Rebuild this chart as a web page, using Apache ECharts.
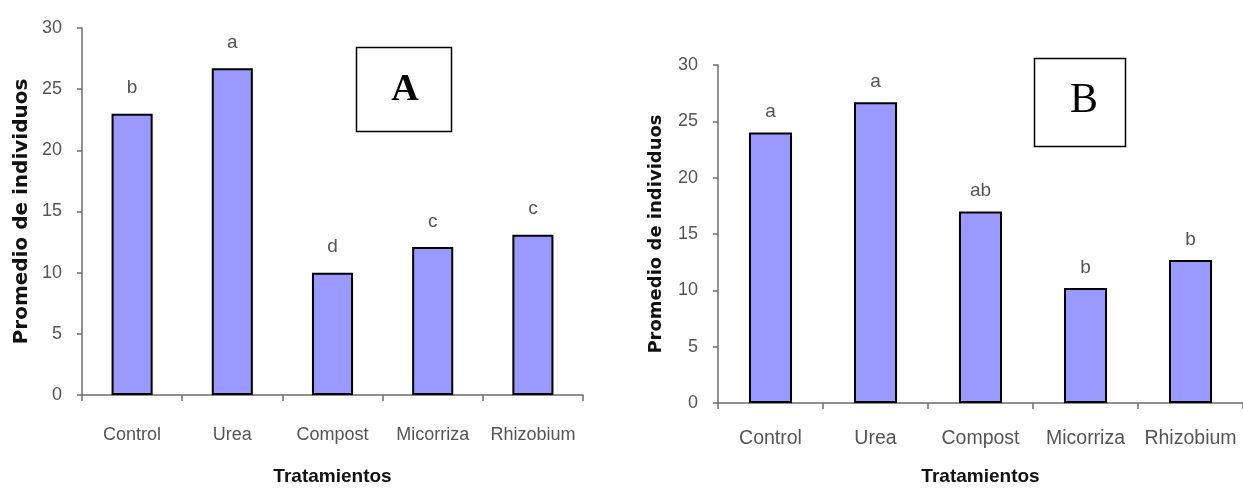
<!DOCTYPE html>
<html>
<head>
<meta charset="utf-8">
<script src="https://cdn.jsdelivr.net/npm/echarts@6/dist/echarts.min.js"></script>
<style>
html,body{margin:0;padding:0;background:#fff;}
#chart{width:1243px;height:491px;}
</style>
</head>
<body>
<div id="chart"></div>
<script>
const categories = ['Control', 'Urea', 'Compost', 'Micorriza', 'Rhizobium'];
const valuesA = [23.0, 26.7, 10.0, 12.1, 13.1];
const lettersA = ['b', 'a', 'd', 'c', 'c'];
const valuesB = [24.0, 26.7, 17.0, 10.2, 12.7];
const lettersB = ['a', 'a', 'ab', 'b', 'b'];
const yTicks = [0, 5, 10, 15, 20, 25, 30];
const yTitle = 'Promedio de individuos';
const xTitle = 'Tratamientos';
const panelLabels = ['A', 'B'];

const sans = '"Liberation Sans", Arial, sans-serif';
const labelColor = '#555';
const axisColor = '#6e6e6e';

function xAxisCfg(gridIndex, fontSize, margin, nameGap) {
  return {
    type: 'category', gridIndex, data: categories,
    boundaryGap: true,
    axisLine: {lineStyle: {color: axisColor, width: 1.5}},
    axisTick: {show: true, length: 6, lineStyle: {color: axisColor, width: 1.5}},
    axisLabel: {color: labelColor, fontFamily: sans, fontSize, margin, interval: 0},
    name: xTitle, nameLocation: 'middle', nameGap,
    nameTextStyle: {fontFamily: sans, fontWeight: 'bold', fontSize: 19, color: '#111'},
    splitLine: {show: false}
  };
}
function yAxisCfg(gridIndex, nameSize, nameGap) {
  return {
    type: 'value', gridIndex, min: yTicks[0], max: yTicks[yTicks.length - 1], interval: 5,
    axisLine: {show: true, lineStyle: {color: axisColor, width: 1.5}},
    axisTick: {show: true, length: 5, lineStyle: {color: axisColor, width: 1.5}},
    axisLabel: {color: labelColor, fontFamily: sans, fontSize: 18, margin: 20},
    splitLine: {show: false},
    name: yTitle, nameLocation: 'middle', nameGap, nameRotate: 90,
    nameTextStyle: {fontFamily: '"DejaVu Sans", sans-serif', fontWeight: 'bold', fontSize: nameSize, color: '#111'}
  };
}
function barSeries(idx, values, letters, dist, fs) {
  return {
    type: 'bar', xAxisIndex: idx, yAxisIndex: idx,
    data: values, barWidth: '41%',
    itemStyle: {color: '#9999FF', borderColor: '#000', borderWidth: 2},
    label: {
      show: true, position: 'top', distance: dist,
      formatter: p => letters[p.dataIndex],
      fontFamily: sans, fontSize: fs, color: labelColor
    },
    animation: false
  };
}

const chart = echarts.init(document.getElementById('chart'), null, {renderer: 'canvas'});
chart.setOption({
  animation: false,
  backgroundColor: '#fff',
  grid: [
    {left: 82, top: 28, width: 501, height: 367, containLabel: false},
    {left: 718, top: 65, width: 535, height: 344, containLabel: false}
  ],
  xAxis: [xAxisCfg(0, 18, 31, 72), xAxisCfg(1, 19.5, 26, 64)],
  yAxis: [yAxisCfg(0, 20, 50), yAxisCfg(1, 18, 53)],
  series: [barSeries(0, valuesA, lettersA, 16, 19), barSeries(1, valuesB, lettersB, 11, 19)],
  graphic: [
    {type: 'rect', shape: {x: 356.5, y: 47.5, width: 95, height: 84}, style: {fill: '#fff', stroke: '#000', lineWidth: 1.5}},
    {type: 'text', x: 405, y: 90, style: {text: panelLabels[0], font: 'bold 38px "Liberation Serif", "Times New Roman", serif', fill: '#000', align: 'center', verticalAlign: 'middle'}},
    {type: 'rect', shape: {x: 1034.5, y: 58.5, width: 91, height: 88}, style: {fill: '#fff', stroke: '#000', lineWidth: 1.5}},
    {type: 'text', x: 1084, y: 101, style: {text: panelLabels[1], font: '42px "Liberation Serif", "Times New Roman", serif', fill: '#000', align: 'center', verticalAlign: 'middle'}}
  ]
});
</script>
</body>
</html>
